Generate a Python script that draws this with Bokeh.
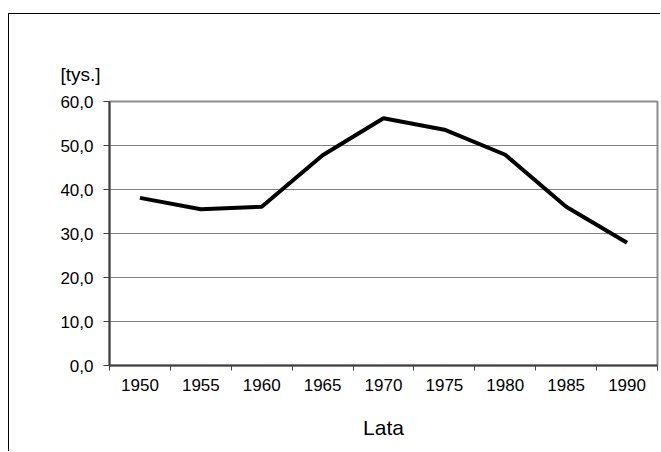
from bokeh.plotting import figure
from bokeh.models import Range1d, FixedTicker
from bokeh.embed import file_html
from bokeh.resources import INLINE

# ---- data ----
years = [1950, 1955, 1960, 1965, 1970, 1975, 1980, 1985, 1990]
values = [38.1, 35.5, 36.1, 47.8, 56.2, 53.6, 47.9, 36.1, 27.9]
y_ticks = [0, 10, 20, 30, 40, 50, 60]
y_tick_labels = ["0,0", "10,0", "20,0", "30,0", "40,0", "50,0", "60,0"]
x_title = "Lata"
y_title = "[tys.]"

half = 2.5
x_start = years[0] - half
x_end = years[-1] + half
bounds = [y - half for y in years] + [x_end]

FONT = "Liberation Sans"

p = figure(width=652, height=438, output_backend="svg", toolbar_location=None,
           x_range=Range1d(x_start, x_end), y_range=Range1d(y_ticks[0], y_ticks[-1]),
           min_border_left=100, min_border_right=4, min_border_top=87, min_border_bottom=87)
p.styles = {"border-left": "1px solid black", "border-top": "1px solid black",
            "margin-top": "13px", "margin-left": "8px"}

p.background_fill_color = "white"
p.border_fill_color = "white"
p.outline_line_color = "#8c8c8c"
p.outline_line_width = 2

p.line(years, values, line_color="black", line_width=4)

# title used as the y-unit caption
p.title.text = y_title
p.title.align = "left"
p.title.offset = -49
p.title.standoff = 33
p.title.text_font = FONT
p.title.text_font_size = "19px"
p.title.text_font_style = "normal"
p.title.text_color = "black"

# x axis
xa = p.xaxis[0]
xa.ticker = FixedTicker(ticks=years, minor_ticks=bounds)
xa.major_label_overrides = {y: str(y) for y in years}
xa.major_tick_out = 0
xa.major_tick_in = 0
xa.minor_tick_out = 5
xa.minor_tick_in = 0
xa.minor_tick_line_color = "#404040"
xa.minor_tick_line_width = 1
xa.axis_line_color = "#404040"
xa.axis_line_width = 2
xa.major_label_text_font = FONT
xa.major_label_text_font_size = "17px"
xa.major_label_text_color = "black"
xa.major_label_standoff = 8
xa.axis_label = x_title
xa.axis_label_text_font = FONT
xa.axis_label_text_font_size = "21px"
xa.axis_label_text_font_style = "normal"
xa.axis_label_text_color = "black"
xa.axis_label_standoff = 22

# y axis
ya = p.yaxis[0]
ya.ticker = FixedTicker(ticks=y_ticks, minor_ticks=[])
ya.major_label_overrides = {t: l for t, l in zip(y_ticks, y_tick_labels)}
ya.major_tick_out = 6
ya.major_tick_in = 0
ya.minor_tick_out = 0
ya.minor_tick_in = 0
ya.major_tick_line_color = "#404040"
ya.axis_line_color = "#404040"
ya.axis_line_width = 2
ya.major_label_text_font = FONT
ya.major_label_text_font_size = "17px"
ya.major_label_text_color = "black"
ya.major_label_standoff = 10

p.xgrid.visible = False
p.ygrid.ticker = FixedTicker(ticks=y_ticks, minor_ticks=[])
p.ygrid.grid_line_color = "#808080"
p.ygrid.grid_line_width = 1

open("out.html", "w").write(file_html(p, INLINE))
